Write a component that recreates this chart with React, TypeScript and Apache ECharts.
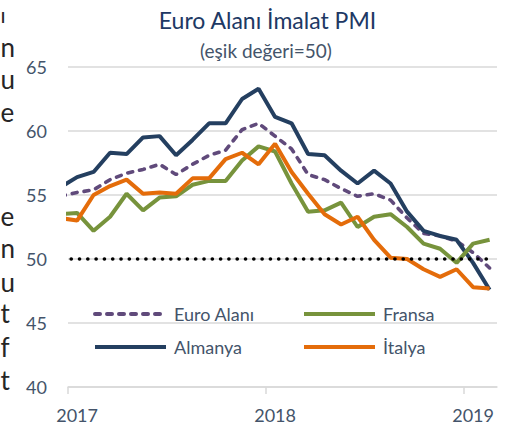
import React, { useEffect, useRef } from 'react';
import * as echarts from 'echarts';

// Monthly manufacturing PMI, Dec 2016 .. Feb 2019
const months = [
  '2016-12', '2017-01', '2017-02', '2017-03', '2017-04', '2017-05', '2017-06', '2017-07', '2017-08',
  '2017-09', '2017-10', '2017-11', '2017-12', '2018-01', '2018-02', '2018-03', '2018-04', '2018-05',
  '2018-06', '2018-07', '2018-08', '2018-09', '2018-10', '2018-11', '2018-12', '2019-01', '2019-02',
];
const euroAlani = [54.9, 55.2, 55.4, 56.2, 56.7, 57.0, 57.4, 56.6, 57.4, 58.1, 58.5, 60.1, 60.6, 59.6, 58.6, 56.6, 56.2, 55.5, 54.9, 55.1, 54.6, 53.2, 52.0, 51.8, 51.4, 50.5, 49.3];
const almanya = [55.6, 56.4, 56.8, 58.3, 58.2, 59.5, 59.6, 58.1, 59.3, 60.6, 60.6, 62.5, 63.3, 61.1, 60.6, 58.2, 58.1, 56.9, 55.9, 56.9, 55.9, 53.7, 52.2, 51.8, 51.5, 49.7, 47.6];
const fransa = [53.5, 53.6, 52.2, 53.3, 55.1, 53.8, 54.8, 54.9, 55.8, 56.1, 56.1, 57.7, 58.8, 58.4, 55.9, 53.7, 53.8, 54.4, 52.5, 53.3, 53.5, 52.5, 51.2, 50.8, 49.7, 51.2, 51.5];
const italya = [53.2, 53.0, 55.0, 55.7, 56.2, 55.1, 55.2, 55.1, 56.3, 56.3, 57.8, 58.3, 57.4, 59.0, 56.8, 55.1, 53.5, 52.7, 53.3, 51.5, 50.1, 50.0, 49.2, 48.6, 49.2, 47.8, 47.7];
const threshold = 50;
const yearLabels = ['2017', '2018', '2019'];
const yTicks = [40, 45, 50, 55, 60, 65];

// cropped letters of neighbouring page text on the left edge
const sideLetters = ['ı', 'n', 'u', 'e', 'e', 'n', 'u', 't', 'f', 't'];
const sideBaselines = [23, 57, 89, 122, 226, 258, 292, 323, 357, 390];
const sideSizes = [21, 26, 26, 26, 26, 26, 26, 26, 26, 26];

const FONT = 'Lato, "Open Sans", sans-serif';
const AXIS_COLOR = '#44546a';
const GRID_COLOR = '#d9d9d9';
// month points sit slightly before the 1st of each month relative to year ticks
const OFFSET = 0.45;
const LABEL_SHIFT = 0.55;

const toPoints = (vals: number[]) => vals.map((v, i) => [i - OFFSET, v]);

export default function App() {
  const ref = useRef<HTMLDivElement>(null);
  useEffect(() => {
    if (!ref.current) return;
    const chart = echarts.init(ref.current, undefined, { renderer: 'svg' });
    const lineBase = { type: 'line' as const, symbol: 'none', showSymbol: false, clip: true, z: 2 };
    const legendText = { fontSize: 18, color: AXIS_COLOR, fontFamily: FONT, padding: [0, 0, 0, 3] };
    const hiddenSymbol = { color: 'rgba(0,0,0,0)', borderWidth: 0, opacity: 0 };
    const graphics: any[] = [
      {
        type: 'text', x: 267.5, y: 19.5,
        style: { text: 'Euro Alanı İmalat PMI', fontSize: 23, fontFamily: FONT, fill: '#203864', textAlign: 'center', align: 'center', textVerticalAlign: 'middle', verticalAlign: 'middle' },
      },
      {
        type: 'text', x: 266, y: 50,
        style: { text: '(eşik değeri=50)', fontSize: 19, fontFamily: FONT, fill: AXIS_COLOR, textAlign: 'center', align: 'center', textVerticalAlign: 'middle', verticalAlign: 'middle' },
      },
      ...sideLetters.map((ch, i) => ({
        type: 'text', x: 0.5, y: sideBaselines[i] - 0.387 * sideSizes[i],
        style: { text: ch, fontSize: sideSizes[i], lineHeight: 18, fontFamily: FONT, fill: '#262626', textAlign: 'left', align: 'left', textVerticalAlign: 'middle', verticalAlign: 'middle' },
      })),
    ];
    chart.setOption({
      animation: false,
      backgroundColor: '#ffffff',
      grid: { left: 68, right: 10, top: 67, bottom: 43 },
      xAxis: {
        type: 'value',
        min: 0,
        max: 26,
        axisLine: { show: true, lineStyle: { color: GRID_COLOR, width: 1.5 } },
        axisTick: { show: true, customValues: [0, 12, 24], length: 7, lineStyle: { color: GRID_COLOR, width: 1.5 } },
        axisLabel: {
          customValues: [LABEL_SHIFT, 12 + LABEL_SHIFT, 24 + LABEL_SHIFT],
          formatter: (v: number) => yearLabels[Math.floor(v / 12)] ?? '',
          color: AXIS_COLOR, fontSize: 18, fontFamily: FONT, margin: 19,
        },
        splitLine: { show: false },
      },
      yAxis: {
        type: 'value',
        min: yTicks[0],
        max: yTicks[yTicks.length - 1],
        interval: 5,
        axisLine: { show: false },
        axisTick: { show: false },
        axisLabel: { color: AXIS_COLOR, fontSize: 18, fontFamily: FONT, margin: 21 },
        splitLine: { lineStyle: { color: GRID_COLOR, width: 1.5 } },
      },
      legend: [
        {
          data: ['Euro Alanı', 'Almanya'], orient: 'vertical', left: 93, top: 305,
          itemWidth: 71, itemHeight: 20, itemGap: 15, padding: 0,
          textStyle: legendText, lineStyle: { width: 4 }, itemStyle: hiddenSymbol,
        },
        {
          data: ['Fransa', 'İtalya'], orient: 'vertical', left: 302, top: 305,
          itemWidth: 71, itemHeight: 20, itemGap: 15, padding: 0,
          textStyle: legendText, lineStyle: { width: 4 }, itemStyle: hiddenSymbol,
        },
      ],
      graphic: graphics,
      series: [
        { ...lineBase, name: 'Euro Alanı', data: toPoints(euroAlani), lineStyle: { color: '#604a7b', width: 3.6, type: [5, 7], cap: 'round' }, itemStyle: { color: '#604a7b' } },
        { ...lineBase, name: 'Almanya', data: toPoints(almanya), lineStyle: { color: '#243f60', width: 4 }, itemStyle: { color: '#243f60' } },
        { ...lineBase, name: 'Fransa', data: toPoints(fransa), lineStyle: { color: '#77933c', width: 4 }, itemStyle: { color: '#77933c' } },
        { ...lineBase, name: 'İtalya', data: toPoints(italya), lineStyle: { color: '#e46c0a', width: 4 }, itemStyle: { color: '#e46c0a' } },
        {
          ...lineBase, name: 'Eşik', data: months.map((_, i) => [i - OFFSET, threshold]), silent: true, z: 3,
          lineStyle: { color: '#000000', width: 3.6, type: [0.1, 8.2], cap: 'round', dashOffset: 5.5 },
        },
      ],
    });
    return () => chart.dispose();
  }, []);
  return <div ref={ref} style={{ position: 'fixed', left: 0, top: 0, width: 507, height: 430 }} />;
}
